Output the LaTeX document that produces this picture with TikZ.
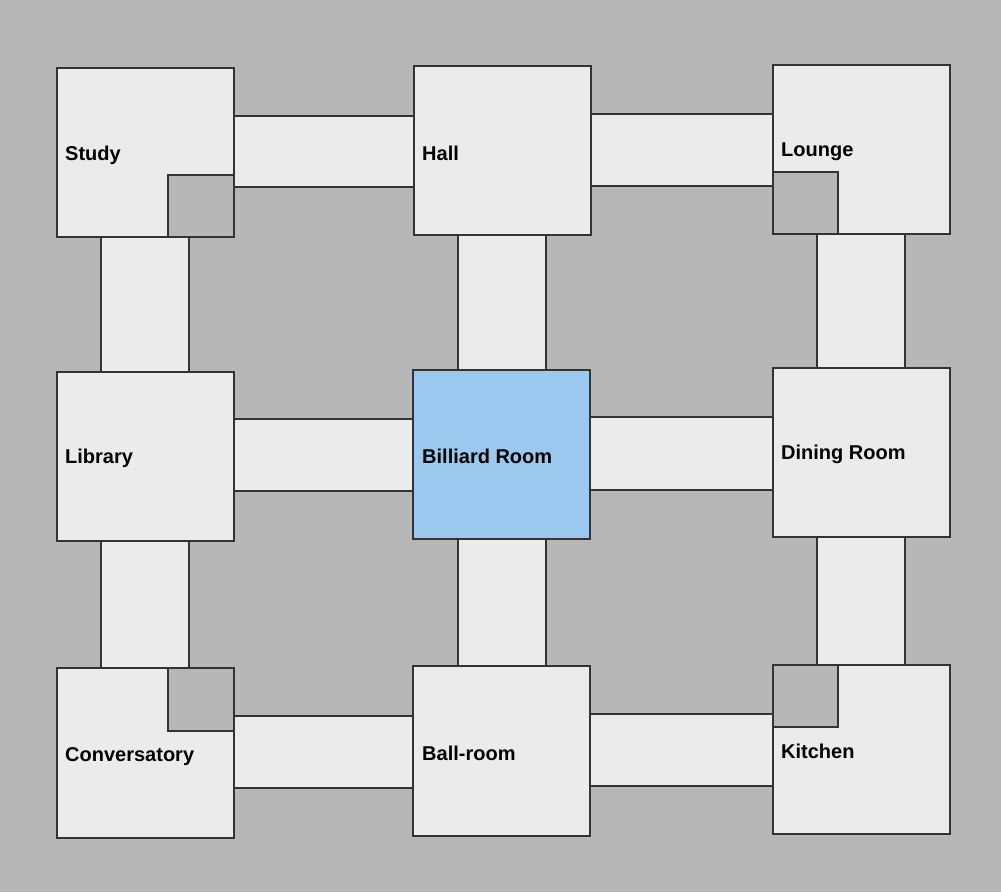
\documentclass[tikz,border=0pt]{standalone}
\usepackage{fontspec}
\setmainfont{Liberation Sans}
\definecolor{bggray}{HTML}{B7B7B7}
\definecolor{roomfill}{HTML}{EBEBEB}
\definecolor{bluefill}{HTML}{9BC8EE}
\definecolor{edge}{HTML}{333333}
\begin{document}
\begin{tikzpicture}[x=1pt,y=-1pt,
  room/.style={fill=roomfill,draw=edge,line width=1.6pt},
  corridor/.style={fill=roomfill,draw=edge,line width=1.6pt},
  notch/.style={fill=bggray,draw=edge,line width=1.6pt},
  lbl/.style={anchor=west,font=\bfseries\fontsize{20}{24}\selectfont,inner sep=0pt,yshift=-2.5pt}]
\fill[bggray] (0,0) rectangle (1001,892);
\useasboundingbox (0,0) rectangle (1001,892);
% corridors
\draw[corridor] (234,116) rectangle (414,187);
\draw[corridor] (591,114) rectangle (773,186);
\draw[corridor] (234,419) rectangle (413,491);
\draw[corridor] (590,417) rectangle (773,490);
\draw[corridor] (234,716) rectangle (413,788);
\draw[corridor] (590,714) rectangle (773,786);
\draw[corridor] (101,237) rectangle (189,372);
\draw[corridor] (458,235) rectangle (546,370);
\draw[corridor] (817,234) rectangle (905,368);
\draw[corridor] (101,541) rectangle (189,668);
\draw[corridor] (458,539) rectangle (546,666);
\draw[corridor] (817,537) rectangle (905,665);
% rooms
\draw[room] (57,68) rectangle (234,237);
\draw[notch] (168,175) rectangle (234,237);
\node[lbl] (study) at (65,153) {Study};
\draw[room] (414,66) rectangle (591,235);
\node[lbl] (hall) at (422,151) {Hall};
\draw[room] (773,65) rectangle (950,234);
\draw[notch] (773,172) rectangle (838,234);
\node[lbl] (lounge) at (781,149) {Lounge};
\draw[room] (57,372) rectangle (234,541);
\node[lbl] (library) at (65,456) {Library};
\draw[room,fill=bluefill] (413,370) rectangle (590,539);
\node[lbl] (billiard) at (422,454) {Billiard Room};
\draw[room] (773,368) rectangle (950,537);
\node[lbl] (dining) at (781,452) {Dining Room};
\draw[room] (57,668) rectangle (234,838);
\draw[notch] (168,668) rectangle (234,731);
\node[lbl] (cons) at (65,754) {Conversatory};
\draw[room] (413,666) rectangle (590,836);
\node[lbl] (ball) at (422,751) {Ball-room};
\draw[room] (773,665) rectangle (950,834);
\draw[notch] (773,665) rectangle (838,727);
\node[lbl] (kitchen) at (781,749) {Kitchen};
\end{tikzpicture}
\end{document}
